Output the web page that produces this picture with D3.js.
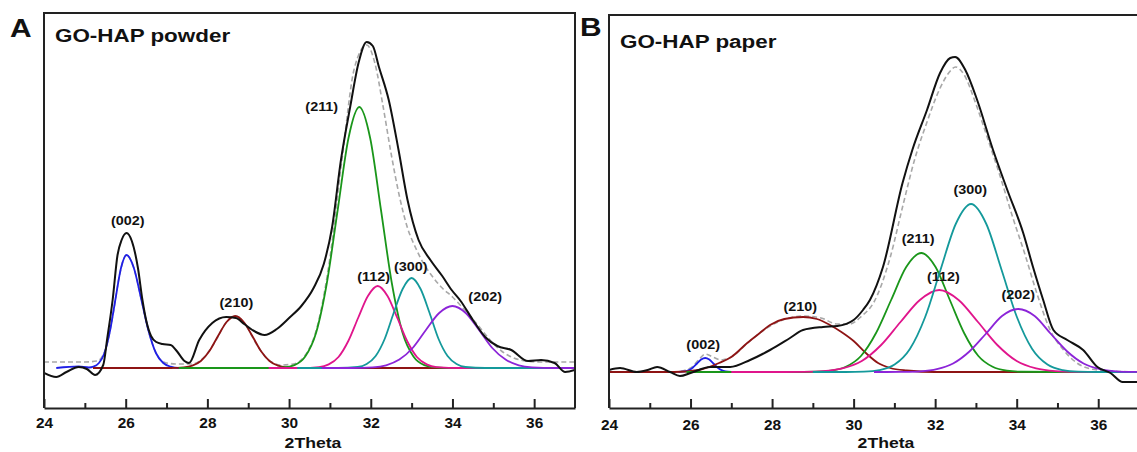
<!DOCTYPE html>
<html>
<head>
<meta charset="utf-8">
<script src="https://cdn.jsdelivr.net/npm/d3@7"></script>
<style>
  body { margin: 0; background: #fff; }
  svg text { font-family: "Liberation Sans", Arial, sans-serif; font-weight: bold; fill: #111; }
</style>
</head>
<body>
<svg id="chart" width="1137" height="452"></svg>
<script>
// ---- data (2theta, intensity a.u.) ----
const peakNames = ["(002)", "(210)", "(211)", "(112)", "(300)", "(202)"];
const majorTicks = [24, 26, 28, 30, 32, 34, 36];
const minorTicks = [25, 27, 29, 31, 33, 35];

// A: GO-HAP powder
const powderMeasured = [[24.0,-5],[24.3,-9],[24.55,-4],[24.85,1],[25.05,-1],[25.25,-7],[25.45,3],[25.55,30],[25.68,68],[25.8,113],[25.9,128],[26.02,135],[26.15,127],[26.3,100],[26.41,68],[26.5,48],[26.62,32],[26.75,26],[26.9,24],[27.1,23],[27.25,17],[27.44,7],[27.55,5],[27.8,28],[28.12,45],[28.46,51],[28.7,50],[28.9,44],[29.1,38],[29.4,33],[29.7,39],[30.0,50],[30.3,62],[30.6,80],[30.85,104],[31.05,140],[31.27,208],[31.5,262],[31.7,305],[31.9,326],[32.05,322],[32.2,301],[32.44,268],[32.68,218],[32.9,168],[33.17,128],[33.46,108],[33.75,92],[33.98,78],[34.2,67],[34.5,48],[34.8,31],[35.1,22],[35.44,18],[35.85,7],[36.17,8],[36.5,5],[36.76,-4],[37.0,-2]];
const powderFit = [[24.0,6],[25.0,6],[25.3,7],[25.5,18],[25.7,56],[25.85,93],[26.02,113],[26.2,100],[26.4,65],[26.6,31],[26.8,11],[27.0,5],[27.3,4],[27.6,4],[27.9,10],[28.2,27],[28.45,45],[28.7,52],[28.95,42],[29.2,24],[29.5,8],[29.8,3],[30.1,4],[30.4,13],[30.7,43],[31.0,110],[31.3,210],[31.6,300],[31.9,323],[32.1,305],[32.3,262],[32.5,214],[32.7,172],[32.9,140],[33.1,120],[33.3,104],[33.5,92],[33.75,80],[34.0,71],[34.3,58],[34.6,44],[34.9,29],[35.2,17],[35.5,10],[35.8,7],[36.2,6],[37.0,6]];
const powder002 = [[24.3,0],[24.85,1.5],[25.1,0.5],[25.21,1.3],[25.345,5],[25.48,15],[25.615,37],[25.75,69],[25.885,100],[26.02,113],[26.2,100],[26.38,69],[26.56,37],[26.74,15],[26.92,5],[27.1,1.3],[27.3,0],[27.5,0]];
const powder210 = [[25.2,0],[27.1,0],[27.42,0.6],[27.63,2.3],[27.84,7],[28.05,17],[28.26,32],[28.47,46],[28.68,52],[28.89,46],[29.1,32],[29.31,17],[29.52,7],[29.73,2.3],[29.94,0.6],[30.3,0],[37,0]];
const powder211 = [[27.3,0],[29.5,0],[29.865,0.6],[30.13,2.9],[30.395,11.5],[30.66,35],[30.925,85],[31.19,158],[31.455,230],[31.72,261],[31.985,230],[32.25,158],[32.515,85],[32.78,35],[33.045,11.5],[33.31,2.9],[33.575,0.6],[34.0,0],[37,0]];
const powder112 = [[29.5,0],[30.3,0],[30.73,0.9],[30.97,3.6],[31.21,11],[31.45,27],[31.69,50],[31.93,72],[32.17,82],[32.41,72],[32.65,50],[32.89,27],[33.13,11],[33.37,3.6],[33.61,0.9],[34.2,0],[37,0]];
const powder300 = [[30.2,0],[31.2,0],[31.68,1],[31.9,4],[32.12,12],[32.34,29],[32.56,55],[32.78,79],[33.0,90],[33.22,79],[33.44,55],[33.66,29],[33.88,12],[34.1,4],[34.32,1],[34.8,0],[37,0]];
const powder202 = [[30.8,0],[31.5,0],[32.05,0.7],[32.375,2.7],[32.7,8.4],[33.025,20],[33.35,38],[33.675,55],[34.0,62],[34.325,55],[34.65,38],[34.975,20],[35.3,8.4],[35.625,2.7],[35.95,0.7],[36.5,0],[37,0]];
const powderLabelAt = [[26.05,147],[28.71,65],[30.8,261],[32.07,91],[32.98,101],[34.8,71]];

// B: GO-HAP paper
const paperMeasured = [[24.0,2],[24.27,4],[24.68,0],[24.95,2],[25.18,5],[25.5,0],[25.74,-4],[26.0,-1],[26.48,5],[26.97,5],[27.46,12],[27.95,22],[28.44,34],[28.76,42],[29.25,45],[29.6,46],[30.0,52],[30.23,62],[30.4,72],[30.72,105],[31.2,189],[31.44,222],[31.8,262],[32.12,299],[32.37,314],[32.49,315],[32.74,302],[33.03,272],[33.42,222],[33.77,182],[34.16,139],[34.4,105],[34.65,72],[34.9,42],[35.24,32],[35.63,22],[35.98,5],[36.3,-1],[36.6,-10],[37.0,-10]];
const paperFit = [[24.0,0],[25.6,0],[26.0,4],[26.2,12],[26.36,18],[26.55,15],[26.75,12],[27.0,15],[27.4,29],[27.8,42],[28.2,51],[28.76,56],[29.2,54],[29.6,48],[29.9,48],[30.2,56],[30.5,70],[30.9,115],[31.2,165],[31.5,213],[31.8,250],[32.1,282],[32.35,300],[32.5,305],[32.7,298],[33.0,268],[33.3,232],[33.6,195],[33.9,155],[34.2,118],[34.5,78],[34.82,42],[35.15,22],[35.6,6],[36.0,2],[37.0,0]];
const paper002 = [[25.7,0],[25.86,0.6],[25.96,1.9],[26.06,4.5],[26.16,8.5],[26.26,12.4],[26.36,14],[26.46,12.4],[26.56,8.5],[26.66,4.5],[26.76,1.9],[26.86,0.6],[27.0,0]];
const paper210 = [[24.0,0],[25.6,0],[26.2,2],[26.7,9],[27.0,15],[27.39,29],[27.7,39],[27.95,47],[28.3,53],[28.76,55],[29.1,53],[29.42,47],[29.7,40],[30.0,31],[30.3,19],[30.6,9],[30.9,4],[31.3,1.5],[32.0,0],[37.0,0]];
const paper211 = [[25.9,0],[28.5,0],[29.07,0.26],[29.44,1.3],[29.81,5.2],[30.18,16],[30.55,39],[30.92,72],[31.29,105],[31.66,119],[32.01,105],[32.36,72],[32.71,39],[33.06,16],[33.41,5.2],[33.76,1.3],[34.11,0.26],[35.0,0],[37,0]];
const paper112 = [[27.0,0],[28.3,0],[28.775,0.18],[29.25,0.9],[29.725,3.6],[30.2,11],[30.675,27],[31.15,50],[31.625,72],[32.1,82],[32.575,72],[33.05,50],[33.525,27],[34.0,11],[34.475,3.6],[34.95,0.9],[35.425,0.18],[36.0,0],[37,0]];
const paper300 = [[29.0,0],[29.8,0],[30.255,0.37],[30.63,1.9],[31.005,7.4],[31.38,23],[31.755,55],[32.13,102],[32.505,148],[32.88,168],[33.255,148],[33.63,102],[34.005,55],[34.38,23],[34.755,7.4],[35.13,1.9],[35.505,0.37],[36.0,0],[37,0]];
const paper202 = [[30.5,0],[30.8,0],[31.24,0.14],[31.64,0.7],[32.04,2.8],[32.44,8.5],[32.84,20.5],[33.24,38],[33.64,56],[34.04,63],[34.44,56],[34.84,38],[35.24,20.5],[35.64,8.5],[36.04,2.8],[36.44,0.7],[36.84,0.14],[37,0]];
const paperLabelAt = [[26.31,27],[28.69,65],[31.58,133],[32.2,95],[32.86,182],[34.04,77]];

// ---- styles ----
const peakColors = ["#1f1fe6", "#8e1414", "#1a961a", "#e0158c", "#14999b", "#8c24d8"];

const panels = [
  { letter: "A", title: "GO-HAP powder", measured: powderMeasured, fit: powderFit,
    comps: [powder002, powder210, powder211, powder112, powder300, powder202], labels: powderLabelAt,
    left: 44, right: 575, top: 13, bottom: 408, yDomain: [-40, 355],
    letterPos: [10, 37], titlePos: [55, 42], xLabelX: 313, tickBase: 10 },
  { letter: "B", title: "GO-HAP paper", measured: paperMeasured, fit: paperFit,
    comps: [paper002, paper210, paper211, paper112, paper300, paper202], labels: paperLabelAt,
    left: 609, right: 1139, top: 15, bottom: 408, yDomain: [-36, 357],
    letterPos: [580, 36], titlePos: [620, 48], xLabelX: 886, tickBase: 12 }
];

const svg = d3.select("#chart");
const defs = svg.append("defs");

panels.forEach((p, i) => {
  const x = d3.scaleLinear().domain([24, 37]).range([p.left, p.right]);
  const y = d3.scaleLinear().domain(p.yDomain).range([p.bottom, p.top]);
  const line = d3.line().x(d => x(d[0])).y(d => y(d[1])).curve(d3.curveMonotoneX);

  defs.append("clipPath").attr("id", "clip" + i)
    .append("rect")
    .attr("x", p.left).attr("y", p.top)
    .attr("width", p.right - p.left).attr("height", p.bottom - p.top);

  const g = svg.append("g");
  const plot = g.append("g").attr("clip-path", `url(#clip${i})`);

  // fitted envelope (dashed)
  plot.append("path")
    .attr("d", line(p.fit))
    .attr("fill", "none")
    .attr("stroke", "#a8a8a8")
    .attr("stroke-width", 1.6)
    .attr("stroke-dasharray", "5,3");

  // component peaks
  plot.selectAll("path.comp")
    .data(p.comps)
    .join("path")
    .attr("class", "comp")
    .attr("d", d => line(d))
    .attr("fill", "none")
    .attr("stroke", (d, k) => peakColors[k])
    .attr("stroke-width", 1.8);

  // measured pattern
  plot.append("path")
    .attr("d", line(p.measured))
    .attr("fill", "none")
    .attr("stroke", "#111")
    .attr("stroke-width", 2);

  // frame (left, top, right)
  g.append("path")
    .attr("d", `M${p.left},${p.bottom}V${p.top}H${p.right}V${p.bottom}`)
    .attr("fill", "none")
    .attr("stroke", "#222")
    .attr("stroke-width", 2);

  // bottom axis, ticks pointing inward
  const axis = g.append("g")
    .attr("transform", `translate(0,${p.bottom})`)
    .call(d3.axisBottom(x).tickValues(majorTicks).tickSize(-9).tickSizeOuter(0)
      .tickPadding(p.tickBase).tickFormat(d3.format("d")));
  axis.select(".domain").attr("stroke", "#222").attr("stroke-width", 2);
  axis.selectAll(".tick line").attr("stroke", "#222").attr("stroke-width", 2);
  axis.selectAll(".tick text")
    .attr("font-size", 14)
    .attr("font-family", null)
    .attr("transform", "scale(1.1,1)");

  const minor = g.append("g")
    .attr("transform", `translate(0,${p.bottom})`)
    .call(d3.axisBottom(x).tickValues(minorTicks).tickSize(-5).tickSizeOuter(0).tickFormat(""));
  minor.select(".domain").remove();
  minor.selectAll(".tick line").attr("stroke", "#222").attr("stroke-width", 2);

  // peak labels
  g.selectAll("text.peak")
    .data(p.labels)
    .join("text")
    .attr("class", "peak")
    .attr("transform", d => `translate(${x(d[0])},${y(d[1])}) scale(1.2,1)`)
    .attr("text-anchor", "middle")
    .attr("dy", "0.35em")
    .attr("font-size", 12)
    .text((d, k) => peakNames[k]);

  // x axis title
  g.append("text")
    .attr("transform", `translate(${p.xLabelX},448) scale(1.26,1)`)
    .attr("text-anchor", "middle")
    .attr("font-size", 14)
    .text("2Theta");

  // panel title and letter
  g.append("text")
    .attr("transform", `translate(${p.titlePos[0]},${p.titlePos[1]}) scale(1.18,1)`)
    .attr("font-size", 19)
    .text(p.title);

  g.append("text")
    .attr("transform", `translate(${p.letterPos[0]},${p.letterPos[1]}) scale(1.15,1)`)
    .attr("font-size", 26)
    .text(p.letter);
});
</script>
</body>
</html>
